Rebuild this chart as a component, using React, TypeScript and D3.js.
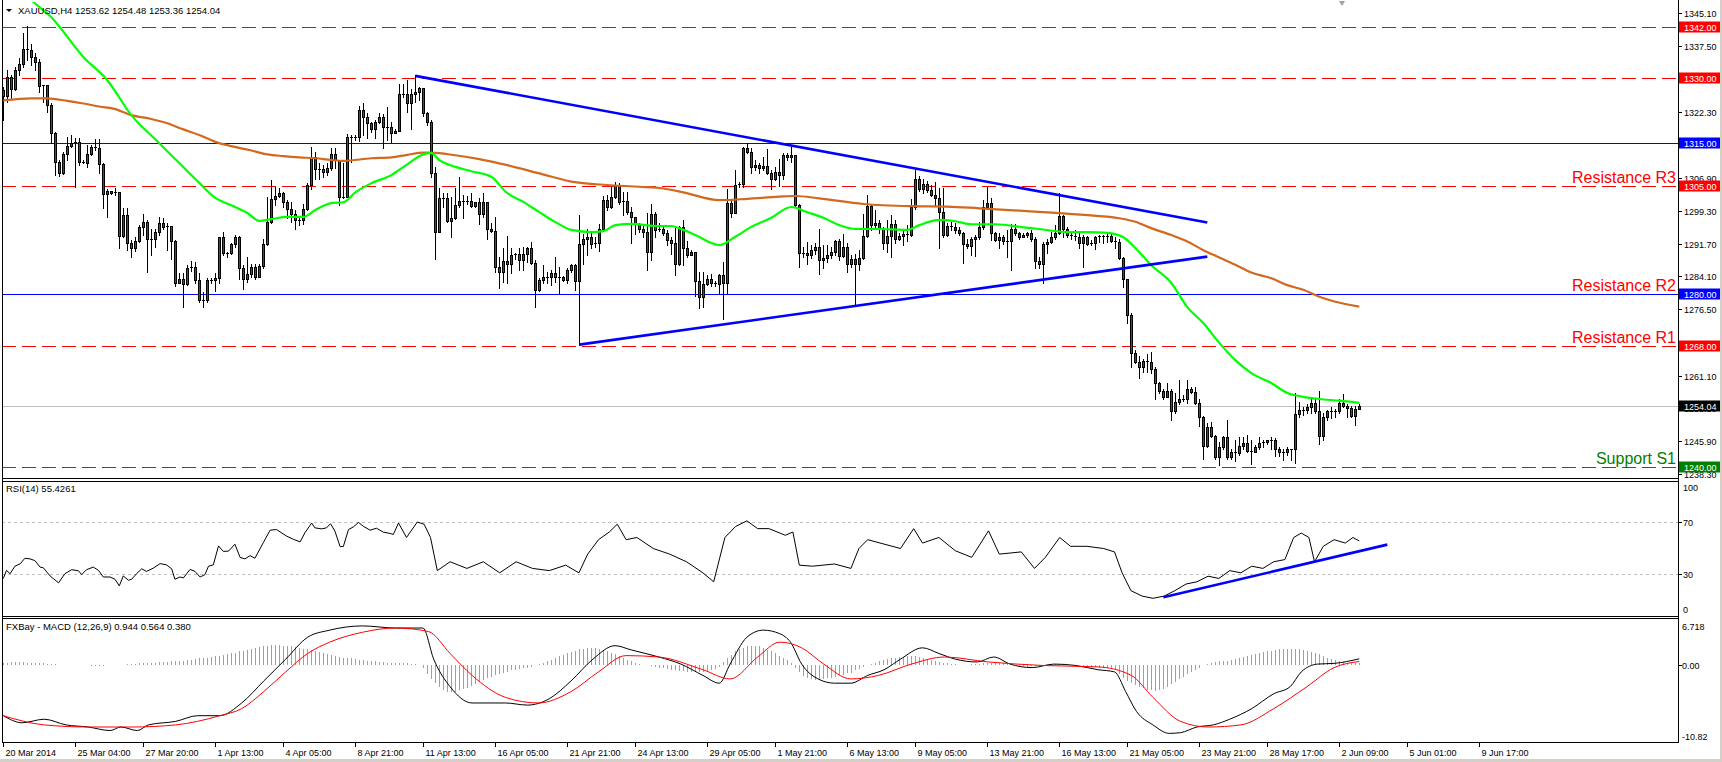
import React from 'react';
import * as d3 from 'd3';

// ---------------- DATA ----------------
const symbolTitle = 'XAUUSD,H4  1253.62 1254.48 1253.36 1254.04';
const rsiTitle = 'RSI(14) 55.4261';
const macdTitle = 'FXBay - MACD (12,26,9) 0.944 0.564 0.380';

const firstOpen = 1327.3;
const closes = [
1325.9,1330.3,1327.5,1332.0,1333.3,1336.8,1336.6,1334.9,1333.9,1328.3,
1328.5,1323.8,1317.3,1310.7,1308.2,1312.5,1314.3,1315.1,1315.3,1310.7,
1310.5,1312.6,1314.2,1313.9,1310.2,1303.2,1303.8,1303.5,1303.7,1293.5,
1298.3,1291.8,1290.6,1292.4,1295.6,1296.8,1292.8,1292.9,1294.5,1296.6,
1295.6,1295.8,1292.4,1282.7,1283.6,1282.3,1286.0,1286.4,1283.3,1278.6,
1278.6,1283.3,1283.3,1283.7,1293.2,1289.5,1289.5,1291.6,1293.2,1286.0,
1283.6,1284.6,1286.4,1283.9,1286.5,1291.6,1296.8,1302.0,1302.7,1303.5,
1301.4,1299.7,1298.5,1297.2,1297.2,1299.7,1305.3,1311.7,1309.0,1309.0,
1308.3,1309.2,1312.6,1311.1,1302.6,1302.6,1316.4,1316.5,1316.4,1322.8,
1321.0,1319.6,1318.4,1320.0,1321.0,1318.7,1318.8,1317.4,1317.8,1326.5,
1326.5,1324.2,1326.3,1326.9,1327.7,1322.1,1320.0,1308.2,1294.5,1302.2,
1302.2,1297.0,1297.6,1300.7,1301.7,1301.7,1301.7,1300.5,1301.3,1298.5,
1301.3,1295.2,1294.7,1286.2,1285.2,1287.8,1287.0,1289.1,1289.3,1287.9,
1289.3,1290.6,1287.3,1281.0,1283.3,1283.9,1284.0,1284.8,1283.9,1283.9,
1283.3,1285.7,1286.7,1283.1,1291.6,1292.9,1293.2,1291.6,1291.8,1295.0,
1301.8,1300.1,1302.6,1305.3,1301.4,1301.7,1299.1,1297.9,1296.3,1295.2,
1294.5,1289.8,1298.6,1294.9,1295.2,1294.1,1292.5,1291.8,1287.0,1295.6,
1290.8,1289.1,1289.7,1283.1,1279.4,1282.3,1283.6,1282.5,1282.3,1284.4,
1282.5,1301.2,1298.9,1305.3,1305.5,1313.8,1313.0,1309.4,1309.9,1309.2,
1309.7,1308.2,1306.6,1308.4,1307.6,1312.3,1311.7,1312.3,1300.7,1289.5,
1289.5,1289.1,1290.2,1291.0,1287.9,1288.4,1289.1,1289.8,1292.4,1288.8,
1291.0,1287.1,1288.1,1287.1,1288.3,1293.5,1300.4,1296.0,1296.4,1295.0,
1291.8,1293.5,1296.3,1292.9,1293.5,1293.9,1293.7,1300.1,1306.8,1304.3,
1305.5,1304.1,1303.0,1302.4,1299.1,1293.7,1295.8,1295.5,1294.9,1294.1,
1291.6,1291.2,1292.7,1293.3,1295.5,1300.1,1301.2,1294.2,1292.5,1293.3,
1292.4,1292.4,1295.2,1294.1,1293.3,1293.7,1294.1,1292.7,1287.8,1287.0,
1291.6,1292.2,1293.2,1294.2,1298.1,1295.2,1293.7,1293.5,1293.2,1291.8,
1293.2,1291.6,1291.9,1293.2,1293.5,1293.2,1293.5,1292.4,1292.2,1288.3,
1283.4,1275.2,1266.4,1264.3,1263.2,1264.6,1264.3,1262.6,1259.3,1257.6,
1256.2,1257.6,1253.0,1255.0,1255.6,1255.8,1257.9,1257.4,1254.7,1251.6,
1244.8,1249.1,1247.1,1242.2,1244.6,1246.8,1242.2,1243.5,1243.1,1244.8,
1245.6,1243.7,1243.5,1244.6,1245.6,1245.8,1246.1,1246.3,1244.2,1243.3,
1243.3,1244.2,1244.0,1252.2,1253.1,1253.1,1253.9,1254.7,1252.8,1247.1,
1251.6,1252.8,1252.8,1252.8,1254.7,1254.1,1253.5,1251.8,1253.3,1254.04
];
const highs = [
1328.1,1332.0,1330.8,1332.7,1334.7,1340.5,1342.1,1338.0,1335.8,1334.4,
1328.6,1328.6,1324.2,1317.7,1311.1,1313.0,1316.5,1316.8,1316.1,1316.1,
1311.1,1314.6,1314.6,1316.0,1316.0,1310.3,1304.3,1303.7,1304.5,1303.7,
1299.9,1299.9,1292.5,1293.3,1296.0,1298.6,1297.2,1295.2,1295.0,1297.9,
1297.6,1296.4,1295.6,1292.5,1284.8,1284.8,1286.7,1287.8,1287.5,1284.8,
1280.6,1283.7,1283.7,1284.8,1293.3,1294.3,1289.8,1291.8,1293.7,1293.5,
1286.7,1288.7,1287.1,1287.1,1287.1,1292.9,1302.6,1306.5,1304.9,1304.5,
1303.7,1301.8,1301.4,1299.5,1297.9,1301.0,1305.7,1314.0,1313.0,1310.3,
1309.9,1310.3,1313.8,1313.8,1310.5,1310.3,1317.2,1316.9,1316.9,1323.6,
1324.2,1322.1,1320.0,1320.4,1322.1,1321.8,1323.4,1320.0,1318.4,1328.7,
1328.7,1329.6,1327.5,1330.8,1328.0,1327.7,1322.3,1320.4,1309.4,1304.5,
1303.5,1303.5,1302.6,1304.5,1307.1,1303.0,1302.7,1303.5,1301.4,1302.2,
1303.5,1301.2,1296.4,1297.9,1288.5,1290.6,1293.5,1290.6,1289.6,1290.6,
1291.0,1291.0,1292.2,1287.9,1283.7,1286.7,1285.2,1285.6,1288.5,1286.2,
1284.2,1286.0,1287.0,1287.0,1298.3,1294.0,1295.0,1294.7,1293.3,1296.3,
1302.7,1303.0,1304.9,1306.1,1305.8,1303.7,1303.7,1300.3,1297.9,1296.4,
1296.0,1298.7,1301.0,1299.1,1296.4,1296.0,1294.9,1293.3,1295.8,1295.8,
1297.3,1292.4,1290.2,1289.8,1285.2,1285.2,1284.4,1284.6,1283.1,1284.6,
1287.5,1304.3,1302.0,1308.8,1306.1,1314.2,1315.1,1313.8,1311.1,1310.5,
1311.7,1313.6,1308.8,1309.5,1311.3,1312.8,1312.8,1314.2,1311.1,1301.0,
1291.0,1292.2,1291.4,1291.9,1295.0,1291.4,1291.4,1291.0,1292.5,1292.7,
1293.9,1291.8,1289.1,1289.3,1290.2,1298.6,1303.0,1301.0,1299.5,1297.2,
1295.6,1297.2,1298.3,1297.2,1294.1,1294.9,1296.0,1302.0,1309.2,1307.4,
1306.6,1306.3,1305.3,1306.1,1304.5,1304.5,1296.4,1296.8,1296.4,1295.6,
1294.3,1292.7,1293.3,1293.7,1296.8,1301.8,1304.9,1302.4,1294.5,1294.1,
1293.7,1294.9,1296.3,1296.3,1294.5,1294.1,1294.5,1294.9,1293.2,1288.7,
1292.2,1292.7,1294.5,1296.0,1303.4,1298.3,1295.5,1294.1,1294.9,1294.5,
1293.7,1293.5,1292.5,1293.5,1293.7,1293.7,1293.9,1293.9,1293.2,1292.9,
1288.5,1283.6,1275.7,1267.0,1265.7,1264.9,1266.1,1266.7,1263.0,1259.7,
1258.1,1259.3,1257.9,1257.0,1260.1,1256.6,1260.1,1258.4,1258.5,1255.8,
1251.7,1250.2,1250.4,1247.3,1245.8,1247.1,1250.8,1244.0,1246.3,1246.8,
1246.8,1247.3,1246.2,1245.0,1246.8,1246.3,1246.3,1246.8,1246.6,1244.6,
1244.2,1244.6,1244.2,1257.2,1255.1,1253.9,1254.5,1255.8,1255.8,1257.6,
1252.4,1253.1,1253.8,1253.3,1255.8,1256.8,1254.5,1254.1,1254.1,1254.48
];
const lows = [
1320.4,1324.6,1325.4,1327.3,1330.8,1332.7,1334.3,1333.1,1332.0,1326.9,
1324.6,1322.3,1315.0,1307.6,1307.4,1307.8,1311.1,1314.2,1304.9,1309.9,
1310.3,1309.5,1312.3,1313.4,1308.0,1299.9,1297.9,1303.2,1303.0,1290.8,
1293.3,1290.2,1288.7,1290.1,1292.0,1293.7,1285.2,1289.1,1291.0,1293.7,
1295.2,1290.2,1288.1,1281.9,1282.5,1277.1,1282.1,1285.4,1282.5,1278.2,
1277.1,1278.2,1282.5,1280.8,1282.5,1289.1,1288.7,1289.4,1291.0,1283.5,
1281.3,1282.9,1284.0,1283.6,1283.9,1286.0,1291.4,1296.4,1300.7,1302.5,
1300.3,1297.6,1296.8,1295.2,1296.0,1296.3,1299.5,1304.3,1306.8,1306.8,
1307.2,1307.6,1308.8,1309.2,1300.7,1302.2,1304.1,1310.7,1315.8,1315.4,
1316.9,1316.1,1317.7,1316.1,1319.6,1313.8,1315.8,1315.2,1317.3,1320.2,
1325.8,1322.3,1318.4,1324.6,1325.0,1321.3,1319.2,1307.1,1288.1,1294.3,
1300.3,1296.8,1293.2,1297.4,1300.3,1297.6,1300.9,1300.3,1300.3,1296.2,
1297.9,1292.9,1294.5,1285.2,1281.5,1282.9,1282.5,1284.8,1288.1,1285.6,
1285.6,1287.5,1287.0,1277.1,1280.8,1282.5,1282.6,1282.1,1282.9,1280.3,
1283.0,1282.6,1285.2,1281.0,1268.3,1287.1,1289.1,1290.6,1291.0,1290.1,
1294.7,1299.5,1299.9,1302.2,1300.9,1298.3,1298.6,1291.8,1293.9,1294.5,
1293.3,1285.7,1287.9,1293.3,1294.7,1293.7,1291.4,1289.4,1284.4,1286.7,
1286.7,1288.7,1289.1,1279.6,1276.9,1277.1,1282.1,1281.9,1281.9,1280.2,
1274.2,1280.2,1297.9,1299.7,1304.9,1304.9,1312.8,1308.0,1308.8,1308.2,
1308.8,1307.8,1304.3,1306.5,1305.1,1306.8,1311.1,1310.7,1300.3,1286.4,
1288.7,1287.0,1288.3,1289.4,1284.6,1286.0,1287.5,1288.3,1289.1,1287.9,
1288.5,1285.2,1286.2,1277.5,1285.6,1288.1,1293.2,1294.9,1295.2,1294.1,
1290.4,1289.8,1288.5,1291.8,1292.5,1291.4,1292.4,1293.5,1299.7,1304.0,
1303.5,1303.7,1302.7,1300.7,1290.6,1293.3,1293.5,1294.9,1294.1,1293.7,
1287.3,1290.8,1289.1,1288.9,1292.9,1295.2,1299.9,1292.5,1292.4,1290.6,
1291.6,1288.7,1285.7,1293.7,1292.9,1293.2,1293.2,1292.4,1286.0,1286.0,
1282.6,1289.6,1291.8,1292.9,1293.9,1293.2,1293.2,1292.7,1292.5,1290.6,
1286.4,1291.4,1291.4,1290.4,1292.2,1291.9,1292.2,1292.2,1290.8,1288.1,
1281.6,1273.4,1263.2,1264.1,1260.5,1262.0,1262.0,1261.8,1255.6,1257.2,
1255.8,1256.1,1250.9,1252.4,1254.5,1255.3,1254.7,1257.2,1254.5,1249.4,
1241.9,1244.6,1246.8,1241.9,1240.4,1244.2,1241.9,1241.9,1241.4,1242.7,
1244.0,1243.5,1240.6,1243.3,1244.0,1244.6,1245.3,1244.2,1242.5,1242.5,
1241.6,1242.7,1241.6,1240.8,1251.6,1252.0,1252.4,1252.4,1252.4,1245.3,
1246.2,1250.8,1251.2,1251.6,1252.4,1253.8,1251.6,1251.6,1249.6,1253.36
];

const fastMaBars = [0,7,12,20,26,32,39,44,49,53,57,61,64,67,71,75,78,82,85,88,92,97,101,105,107,109,113,117,122,126,130,134,138,142,147,150,153,157,163,167,170,173,179,183,187,192,197,201,205,209,213,219,226,229,234,238,242,248,255,259,266,271,276,280,283,287,292,296,300,304,308,312,317,321,325,329,334,339];
const fastMaVals = [1356.0,1348.2,1344.2,1335.0,1329.6,1321.5,1315.0,1310.4,1305.8,1302.3,1300.6,1298.8,1297.0,1297.4,1297.9,1297.9,1299.5,1301.1,1301.3,1303.6,1305.7,1307.6,1310.1,1312.4,1312.7,1311.1,1309.5,1308.5,1307.2,1303.4,1301.4,1299.0,1296.7,1294.9,1294.4,1294.6,1296.0,1296.3,1295.8,1295.8,1294.9,1293.7,1291.4,1293.3,1295.6,1297.7,1300.2,1299.0,1297.7,1296.0,1295.1,1295.1,1294.9,1296.0,1297.2,1296.9,1296.2,1296.2,1295.5,1295.1,1294.4,1294.4,1294.2,1293.2,1290.7,1286.7,1282.6,1277.0,1273.3,1268.7,1264.7,1261.7,1259.4,1257.1,1256.2,1255.7,1255.3,1254.8];
const slowMaBars = [0,7,11,16,20,24,28,32,37,41,45,49,53,57,62,66,70,74,78,82,85,92,97,101,105,107,113,119,126,134,142,151,159,165,170,179,186,194,198,204,215,227,236,244,255,262,271,279,283,287,292,296,300,304,308,312,317,321,325,329,333,339];
const slowMaVals = [1324.9,1325.4,1325.4,1324.8,1324.2,1323.5,1322.9,1321.5,1320.6,1319.6,1318.2,1316.9,1315.3,1314.3,1313.3,1312.4,1312.0,1311.7,1311.5,1311.1,1310.9,1311.5,1311.7,1312.3,1312.8,1312.8,1312.2,1311.3,1309.9,1308.0,1306.1,1305.3,1304.9,1304.5,1303.6,1301.8,1302.1,1302.6,1302.75,1302.2,1300.9,1300.4,1300.3,1299.9,1299.3,1298.9,1298.3,1297.6,1296.8,1295.3,1293.7,1292.2,1290.2,1288.5,1286.8,1285.0,1283.7,1282.1,1281.0,1279.4,1278.25,1277.1];

const trendUpperBars = [103, 301];
const trendUpperVals = [1330.6, 1296.6];
const trendLowerBars = [144, 301];
const trendLowerVals = [1268.3, 1288.7];

const levelPrices = [1342, 1330, 1315, 1305, 1280, 1268, 1254.04, 1240];
const levelKinds = ['pivot', 'pivot', 'major', 'pivot', 'major', 'pivot', 'last', 'support'];
const noteTexts = ['Resistance R3', 'Resistance R2', 'Resistance R1', 'Support S1'];
const notePrices = [1305, 1280, 1268, 1240];
const noteKinds = ['res', 'res', 'res', 'sup'];

const priceTicks = [1345.1, 1337.5, 1329.9, 1322.3, 1314.7, 1306.9, 1299.3, 1291.7, 1284.1, 1276.5, 1268.7, 1261.1, 1253.5, 1245.9, 1238.3];

const rsiBars = [0,0.8,1.7,2.9,4.2,5.4,6.7,7.9,9.2,10,11.7,13.8,15.4,17.1,18.8,19.6,20.8,22.5,23.8,25,26.7,27.9,29,30,31.3,32.1,33.3,34.6,35.8,37.5,39.2,40.8,42.1,42.9,44.2,45,46.7,47.9,49.2,50.4,51.3,52.5,53.8,55,56.3,57.9,59.2,60.4,61.7,62.9,65,66.7,68.3,70.8,72.5,74.2,75.4,77.1,77.9,79.6,80.8,81.8,82.9,84.2,85,86.3,87.5,88.8,90,91.7,93.3,95,96.7,97.5,98.8,100.8,103.5,105.2,106.8,108.5,111.7,115.9,120,124.1,128.2,132.3,136.5,140.6,143.9,146.1,148.8,151.5,153.5,155.7,158.4,162.5,166.6,170.8,174.9,177.6,180.4,183.1,185.9,188.6,191.4,195.5,197.4,199,202.3,207.8,211.9,213.9,216.1,220.2,224.3,227.6,229.8,233.9,238,242.1,246.3,249,254.5,257.8,260.5,264.1,266.8,270.9,275.1,277.8,279.7,281.9,284.7,287.4,290.2,292.9,295.7,298.4,301.2,303.9,306.6,309.4,312.1,314.9,317.6,320.4,322.6,324.5,326.4,327.8,330,332.7,335.5,337.4,339];
const rsiVals = [26.5,32.8,30.2,36,37.8,42.1,41.6,40.3,35.3,34.8,28.5,23.2,30.2,33.3,32.5,29.5,33.3,35.3,32.8,27.7,27.7,26,20.9,28.5,25.2,26,30.2,34,32,34.5,38,37,34,26,27.7,27,33.5,32,27.7,29.5,36,37,51.6,47.4,47.6,52.9,42.8,41.6,44.1,42.1,54.1,63.7,64.2,59.2,56.7,54.7,61.7,69.2,65.5,64.7,65.5,68.7,63,51.1,51.1,64.2,66.2,69.7,66.7,63.7,65.2,62.2,61.2,60.4,69.2,58.1,70,68.3,58.1,32.6,39.4,34.3,39.4,30.9,39.4,34.3,32.6,36.8,30.9,45.3,56.4,62.3,68.3,56.4,58.1,49.6,45.3,39.4,30.9,24,58.1,66.6,70.9,64.9,64.9,59.8,62.3,36.8,36,37.7,34.3,49.6,56.4,53,49.6,64.9,53.8,58.1,47.9,42.8,63.2,45.3,47,34.3,42.8,58.1,51.3,51.3,49.6,47,30.9,17.2,13,11.3,13,17.2,22.3,24,28.3,26.6,32.6,30.9,36,34.3,39.4,41.1,58.1,61.5,58.1,39.4,51.3,56.4,53.8,58.1,55.4];
const rsiLevels = [70, 30];
const rsiAxis = [100, 70, 30, 0];
const rsiTrendBars = [290, 346];
const rsiTrendVals = [12.1, 52.6];

const macdBars = [0,4.7,10.2,15.7,21.2,26.7,29.4,33.5,36.3,43.1,48.6,54.1,59.6,65.1,70.6,76.1,81.6,89.8,98,104.9,107.6,111.7,117.2,125.5,131,136.5,141.9,147.4,152.9,157,163.9,169.4,174.9,179,181.7,185.9,190,194.1,196.8,199.6,203.7,207.8,211.9,216.1,220.2,224.3,229.8,233.9,238,243.5,247.6,251.7,257.2,262.7,268.2,273.7,277.8,280.6,283.3,287.4,291.5,294.3,298.4,302.5,306.6,312.1,317.6,321.7,324.5,328.6,332.7,339];
const macdVals = [-7.1,-8.1,-7.6,-8.4,-8.7,-9.2,-8.7,-9.2,-8.4,-7.9,-7.1,-7.1,-5.3,-2.2,0.9,4.0,5.0,5.6,5.3,5.3,0.9,-3.0,-5.3,-5.3,-5.6,-4.7,-2.2,0.9,2.8,2.2,1.2,0.2,-1.4,-2.5,0.2,4.0,5.0,4.5,3.3,0.2,-1.9,-2.5,-2.5,-1.4,-0.6,0.9,2.5,1.7,0.9,0.5,1.2,0.2,-0.3,0.2,0,-0.6,-0.9,-3.7,-6.5,-8.4,-9.6,-9.5,-8.7,-8.4,-7.6,-6.1,-4.0,-3.0,-0.9,0.2,0.3,0.944];
const signalBars = [0,10.2,21.2,32.1,43.1,54.1,59.6,65.1,70.6,76.1,81.6,89.8,98,106.3,111.7,117.2,125.5,133.7,141.9,148.8,155.7,163.9,174.9,181.7,188.6,194.1,199.6,205.1,211.9,218.8,227,235.3,246.3,260,273.7,282,287.4,294.3,301.2,309.4,317.6,325.9,332.7,339];
const signalVals = [-7.1,-8.4,-8.7,-8.7,-8.4,-7.1,-6.1,-3.7,-0.9,1.7,3.3,4.7,5.3,4.8,1.7,-1.4,-4.5,-5.3,-3.7,-0.9,1.4,1.2,-0.6,-1.9,1.2,3.3,2.5,0.2,-1.9,-1.4,0.2,1.2,0.5,0,-0.2,-1.4,-4.5,-7.9,-8.7,-8.4,-6.1,-3.0,-0.3,0.564];
// one histogram value per bar (MACD - signal)
const histVals = [
0.4,0.4,0.5,0.5,0.5,0.5,0.4,0.4,0.4,0.3,0.3,0.2,0.2,0.2,0.1,0.1,0.1,0.1,0.0,0.0,
0.0,0.0,-0.1,-0.1,-0.1,-0.1,0.0,0.0,0.1,0.1,0.1,0.2,0.2,0.2,0.3,0.3,0.3,0.4,0.4,0.5,
0.5,0.5,0.6,0.6,0.7,0.7,0.8,0.8,0.9,1.0,1.0,1.1,1.2,1.3,1.4,1.5,1.6,1.7,1.8,2.0,
2.1,2.2,2.4,2.5,2.6,2.7,2.8,2.9,2.9,2.9,2.8,2.8,2.7,2.6,2.5,2.4,2.3,2.2,2.0,1.9,
1.8,1.6,1.5,1.3,1.2,1.1,1.0,1.0,0.9,0.8,0.8,0.7,0.6,0.6,0.5,0.5,0.4,0.4,0.4,0.3,
0.3,0.3,0.2,0.2,0.1,-0.4,-1.2,-1.9,-2.5,-3.0,-3.4,-3.7,-3.8,-3.7,-3.5,-3.3,-3.2,-2.9,-2.6,-2.3,
-2.0,-1.8,-1.6,-1.4,-1.2,-1.0,-0.9,-0.7,-0.6,-0.5,-0.4,-0.3,-0.2,0.0,0.2,0.4,0.6,0.8,1.0,1.3,
1.5,1.7,1.9,2.1,2.3,2.4,2.5,2.5,2.5,2.4,2.2,2.0,1.8,1.6,1.3,1.0,0.8,0.6,0.4,0.2,
0.1,0.0,-0.1,-0.2,-0.3,-0.4,-0.5,-0.6,-0.7,-0.8,-0.8,-0.9,-0.9,-0.9,-0.9,-0.9,-0.8,-0.7,-0.5,-0.2,
0.5,1.0,1.5,2.0,2.4,2.5,2.7,2.8,2.8,2.7,2.5,2.2,2.0,1.7,1.4,1.1,0.8,0.3,-0.3,-0.9,
-1.5,-1.7,-1.9,-2.0,-2.0,-1.9,-1.8,-1.7,-1.6,-1.4,-1.3,-1.1,-1.0,-0.7,-0.5,-0.2,0.0,0.2,0.4,0.6,
0.8,0.9,1.0,1.1,1.2,1.2,1.3,1.3,1.3,1.2,1.1,0.9,0.8,0.7,0.5,0.4,0.3,0.2,0.2,0.1,
0.1,0.1,0.2,0.2,0.2,0.3,0.4,0.4,0.5,0.4,0.3,0.2,0.1,0.0,-0.1,-0.1,-0.2,-0.1,-0.1,0.0,
0.1,0.1,0.2,0.2,0.2,0.2,0.1,0.1,0.0,0.0,-0.1,-0.1,-0.2,-0.2,-0.3,-0.3,-0.4,-0.5,-0.7,-1.2,
-1.8,-2.2,-2.5,-2.8,-3.0,-3.2,-3.4,-3.5,-3.6,-3.5,-3.3,-3.0,-2.6,-2.3,-1.9,-1.6,-1.2,-0.9,-0.6,-0.3,
0.1,0.2,0.3,0.5,0.6,0.7,0.7,0.8,0.9,1.0,1.2,1.3,1.5,1.6,1.7,1.9,2.0,2.1,2.2,2.3,
2.4,2.4,2.4,2.3,2.3,2.2,2.1,1.9,1.8,1.6,1.3,1.1,0.9,0.8,0.7,0.5,0.4,0.4,0.4,0.38
];
const macdAxis = [6.718, 0, -10.82];
const macdAxisText = ['6.718', '0.00', '-10.82'];

const timeLabels = ['20 Mar 2014','25 Mar 04:00','27 Mar 20:00','1 Apr 13:00','4 Apr 05:00','8 Apr 21:00','11 Apr 13:00','16 Apr 05:00','21 Apr 21:00','24 Apr 13:00','29 Apr 05:00','1 May 21:00','6 May 13:00','9 May 05:00','13 May 21:00','16 May 13:00','21 May 05:00','23 May 21:00','28 May 17:00','2 Jun 09:00','5 Jun 01:00','9 Jun 17:00'];
const timeLabelBars = [0,18,35,53,70,88,105,123,141,158,176,193,211,228,246,264,281,299,316,334,351,369];

// ---------------- LAYOUT / STYLE ----------------
const W = 1722, H = 762;
const LEFT = 2, RIGHT = 1678;
const FONT = '"Liberation Sans", Arial, sans-serif';
const UP = '#008000', DOWN = '#ff0000';
const levelStyle: Record<string, { color: string; dash?: string; box: string; text: string }> = {
  pivot: { color: '#ff0000', dash: '14,6', box: '#ff0000', text: '#ffffff' },
  major: { color: '#0000ff', box: '#0000ff', text: '#ffffff' },
  last: { color: '#c0c0c0', box: '#000000', text: '#ffffff' },
  support: { color: '#008000', dash: '14,6', box: '#008000', text: '#ffffff' },
};

const zip = (a: number[], b: number[]) => a.slice(0, Math.min(a.length, b.length)).map((v, i) => [v, b[i]] as [number, number]);

export default function App() {
  const x = d3.scaleLinear().domain([0, 339]).range([3.3, 1359.3]);
  const yP = d3.scaleLinear().domain([1342, 1240]).range([26.7, 466.7]);
  const yR = d3.scaleLinear().domain([0, 100]).range([613, 483]);
  const yM = d3.scaleLinear().domain([6.718, -10.82]).range([618, 742]);
  const cxOf = (i: number) => Math.floor(x(i));

  const priceLine = d3.line<[number, number]>().x(d => x(d[0])).y(d => yP(d[1])).curve(d3.curveMonotoneX);
  const rsiLine = d3.line<[number, number]>().x(d => x(d[0])).y(d => yR(d[1]));
  const macdLine = d3.line<[number, number]>().x(d => x(d[0])).y(d => yM(d[1])).curve(d3.curveMonotoneX);
  const straight = (bars: number[], vals: number[], ys: (v: number) => number) =>
    `M${x(bars[0])},${ys(vals[0])}L${x(bars[1])},${ys(vals[1])}`;

  const candles = closes.map((c, i) => {
    const o = i === 0 ? firstOpen : closes[i - 1];
    const X = cxOf(i);
    const t = Math.round(Math.min(yP(o), yP(c)));
    const b = Math.round(Math.max(yP(o), yP(c)));
    const up = c >= o;
    return (
      <g key={i}>
        <line x1={X + 0.5} x2={X + 0.5} y1={Math.round(yP(highs[i]))} y2={Math.round(yP(lows[i])) + 1} stroke="#000" />
        {b - t <= 1 ? (
          <rect x={X - 1} y={t} width={3} height={1} fill="#000" />
        ) : (
          <>
            <rect x={X - 1} y={t} width={3} height={b - t + 1} fill="#000" />
            <rect x={X} y={t + 1} width={1} height={b - t - 1} fill={up ? UP : DOWN} />
          </>
        )}
      </g>
    );
  });

  const labelBox = (yc: number, txt: string, bg: string, fg: string, key: string) => (
    <g key={key}>
      <rect x={1679} y={Math.round(yc) - 5.5} width={42} height={11} fill={bg} />
      <text x={1684} y={Math.round(yc) + 3.5} fontSize={9} fill={fg} fontFamily={FONT}>{txt}</text>
    </g>
  );

  const histBars = histVals.map((v, k) => {
    const X = cxOf(k) + 0.5;
    return <line key={k} x1={X} x2={X} y1={yM(0)} y2={yM(v)} stroke="#a0a0a0" />;
  });

  return (
    <svg width={W} height={H} style={{ position: 'absolute', left: 0, top: 0, background: '#fff' }} fontFamily={FONT}>
      <rect x={0} y={0} width={W} height={H} fill="#fff" />
      {/* ---------- PRICE PANEL ---------- */}
      <g shapeRendering="crispEdges">
        {levelPrices.map((p, i) => {
          const st = levelStyle[levelKinds[i]];
          const yy = Math.round(yP(p)) + 0.5;
          return <line key={i} x1={LEFT} x2={RIGHT} y1={yy} y2={yy} stroke={st.color} strokeDasharray={st.dash} />;
        })}
      </g>
      <g shapeRendering="crispEdges">{candles}</g>
      <path d={priceLine(zip(slowMaBars, slowMaVals)) || ''} fill="none" stroke="#d2691e" strokeWidth={2.2} />
      <clipPath id="pc"><rect x={LEFT} y={2} width={RIGHT - LEFT} height={476} /></clipPath>
      <path d={priceLine(zip(fastMaBars, fastMaVals)) || ''} fill="none" stroke="#00ff00" strokeWidth={2.2} clipPath="url(#pc)" />
      <path d={straight(trendUpperBars, trendUpperVals, yP)} stroke="#0000ff" strokeWidth={2.6} fill="none" />
      <path d={straight(trendLowerBars, trendLowerVals, yP)} stroke="#0000ff" strokeWidth={2.6} fill="none" />
      {noteTexts.map((t, i) => (
        <text key={i} x={1676} y={yP(notePrices[i]) - 3} textAnchor="end" fontSize={16} fill={noteKinds[i] === 'sup' ? '#008000' : '#ff0000'}>{t}</text>
      ))}
      <text x={18} y={14} fontSize={9.5} fill="#000">{symbolTitle}</text>
      <path d="M6,9 L12,9 L9,12 Z" fill="#000" />
      <path d="M1339,1 L1345,1 L1342,6 Z" fill="#a0a0a0" />

      {/* ---------- RSI PANEL ---------- */}
      {rsiLevels.map((l, i) => (
        <line key={i} x1={LEFT} x2={RIGHT} y1={Math.round(yR(l)) + 0.5} y2={Math.round(yR(l)) + 0.5} stroke="#c0c0c0" strokeDasharray="3,3" shapeRendering="crispEdges" />
      ))}
      <path d={rsiLine(zip(rsiBars, rsiVals)) || ''} fill="none" stroke="#000" strokeWidth={1} />
      <path d={straight(rsiTrendBars, rsiTrendVals, yR)} stroke="#0000ff" strokeWidth={2.6} fill="none" />
      <text x={6} y={492} fontSize={9.5} fill="#000">{rsiTitle}</text>

      {/* ---------- MACD PANEL ---------- */}
      <g shapeRendering="crispEdges">{histBars}</g>
      <path d={macdLine(zip(macdBars, macdVals)) || ''} fill="none" stroke="#000" strokeWidth={1} />
      <path d={macdLine(zip(signalBars, signalVals)) || ''} fill="none" stroke="#ff0000" strokeWidth={1} />
      <text x={6} y={630} fontSize={9.5} fill="#000">{macdTitle}</text>

      {/* ---------- FRAMES ---------- */}
      <g shapeRendering="crispEdges" stroke="#000">
        <line x1={LEFT + 0.5} x2={LEFT + 0.5} y1={0} y2={743} />
        <line x1={RIGHT + 0.5} x2={RIGHT + 0.5} y1={0} y2={743} />
        <line x1={LEFT} x2={RIGHT + 1} y1={478.5} y2={478.5} />
        <line x1={LEFT} x2={RIGHT + 1} y1={481.5} y2={481.5} />
        <line x1={LEFT} x2={RIGHT + 1} y1={616.5} y2={616.5} />
        <line x1={LEFT} x2={RIGHT + 1} y1={618.5} y2={618.5} />
        <line x1={LEFT} x2={RIGHT + 1} y1={742.5} y2={742.5} />
      </g>

      {/* ---------- PRICE AXIS ---------- */}
      {priceTicks.map((p, i) => (
        <g key={i}>
          <line x1={RIGHT + 1} x2={RIGHT + 4} y1={Math.round(yP(p)) + 0.5} y2={Math.round(yP(p)) + 0.5} stroke="#000" shapeRendering="crispEdges" />
          <text x={1684} y={Math.round(yP(p)) + 3.5} fontSize={9} fill="#000">{p.toFixed(2)}</text>
        </g>
      ))}
      {levelPrices.map((p, i) => {
        const st = levelStyle[levelKinds[i]];
        return labelBox(yP(p), p.toFixed(2), st.box, st.text, 'lb' + i);
      })}
      {rsiAxis.map((v, i) => {
        const yc = Math.min(609, Math.max(487, yR(v)));
        return (
          <g key={i}>
            {v > 0 && v < 100 && <line x1={RIGHT + 1} x2={RIGHT + 4} y1={Math.round(yR(v)) + 0.5} y2={Math.round(yR(v)) + 0.5} stroke="#000" shapeRendering="crispEdges" />}
            <text x={1683} y={yc + 3.5} fontSize={9} fill="#000">{v}</text>
          </g>
        );
      })}
      {macdAxis.map((v, i) => {
        const yc = Math.min(736, Math.max(626, yM(v)));
        return (
          <g key={i}>
            {i === 1 && <line x1={RIGHT + 1} x2={RIGHT + 4} y1={Math.round(yM(v)) + 0.5} y2={Math.round(yM(v)) + 0.5} stroke="#000" shapeRendering="crispEdges" />}
            <text x={1682} y={yc + 3.5} fontSize={9} fill="#000">{macdAxisText[i]}</text>
          </g>
        );
      })}

      {/* ---------- TIME AXIS ---------- */}
      {timeLabels.map((t, i) => {
        const X = cxOf(timeLabelBars[i]) + 0.5;
        return (
          <g key={i}>
            <line x1={X} x2={X} y1={743} y2={747} stroke="#000" shapeRendering="crispEdges" />
            <text x={X + 2} y={756} fontSize={9} fill="#000">{t}</text>
          </g>
        );
      })}
      <rect x={1720} y={0} width={2} height={H} fill="#d4d0c8" />
      <rect x={0} y={759} width={W} height={3} fill="#d4d0c8" />
    </svg>
  );
}
